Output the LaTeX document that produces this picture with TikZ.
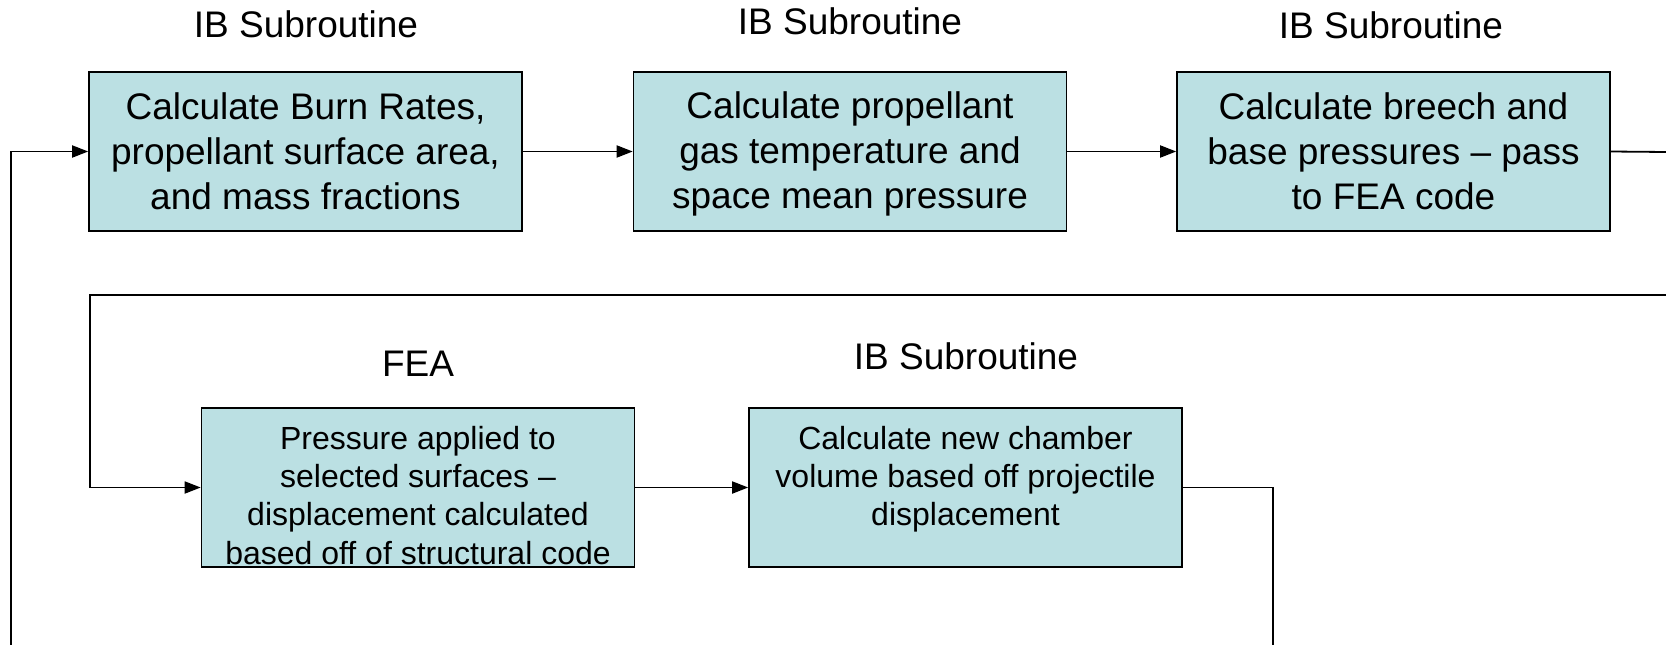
\documentclass[tikz,border=0pt]{standalone}
\usepackage{fontspec}
\setmainfont{Liberation Sans}
\usetikzlibrary{arrows.meta}
\definecolor{boxfill}{HTML}{BBE0E3}
\tikzset{
  box/.style={draw=black, line width=1.6pt, fill=boxfill, minimum width=433pt, minimum height=159pt, inner sep=0pt},
  bigtxt/.style={font=\fontsize{37}{45}\selectfont, align=center, inner sep=0pt},
  smalltxt/.style={font=\fontsize{32}{38.3}\selectfont, align=center, inner sep=0pt, anchor=north},
  lbl/.style={font=\fontsize{37}{45}\selectfont, inner sep=0pt, anchor=base},
  conn/.style={draw=black, line width=1.8pt},
  arr/.style={conn, -{Triangle[length=16pt,width=12pt]}}
}
\begin{document}
\begin{tikzpicture}[x=1pt,y=-1pt]
\useasboundingbox[fill=white] (0,0) rectangle (1666,645);
% boxes
\node[box] (b1) at (305.5,151.5) {};
\node[box] (b2) at (850,151.5) {};
\node[box] (b3) at (1393.5,151.5) {};
\node[box] (b4) at (418,487.5) {};
\node[box] (b5) at (965.5,487.5) {};
% box texts
\node[bigtxt] (t1) at (305.5,151) {Calculate Burn Rates,\\propellant surface area,\\and mass fractions};
\node[bigtxt] (t2) at (850,154) {Calculate propellant\\gas temperature and\\space mean pressure};
\node[bigtxt] (t3) at (1393.5,151) {Calculate breech and\\base pressures -- pass\\to FEA code};
\node[smalltxt] (t4) at (418,426) {Pressure applied to\\selected surfaces --\\displacement calculated\\based off of structural code};
\node[smalltxt] (t5) at (965.5,426) {Calculate new chamber\\volume based off projectile\\displacement};
% labels
\node[lbl] (l1) at (306,37) {IB Subroutine};
\node[lbl] (l2) at (850,34.5) {IB Subroutine};
\node[lbl] (l3) at (1391,38.7) {IB Subroutine};
\node[lbl] (l4) at (418,376.6) {FEA};
\node[lbl] (l5) at (966,369) {IB Subroutine};
% coordinates
\coordinate (r1) at (1666,152);
\coordinate (r2) at (1666,295);
\coordinate (c1) at (90,295);
\coordinate (c2) at (1273,645);
\coordinate (c3) at (11,645);
% connectors
\draw[arr] (b1.east) -- (b2.west);
\draw[arr] (b2.east) -- (b3.west);
\draw[conn] (b3.east) -- (r1);
\draw[arr] (r2) -- (c1) |- (b4.west);
\draw[arr] (b4.east) -- (b5.west);
\draw[conn] (b5.east) -| (c2);
\draw[arr] (c3) |- (b1.west);
\end{tikzpicture}
\end{document}
